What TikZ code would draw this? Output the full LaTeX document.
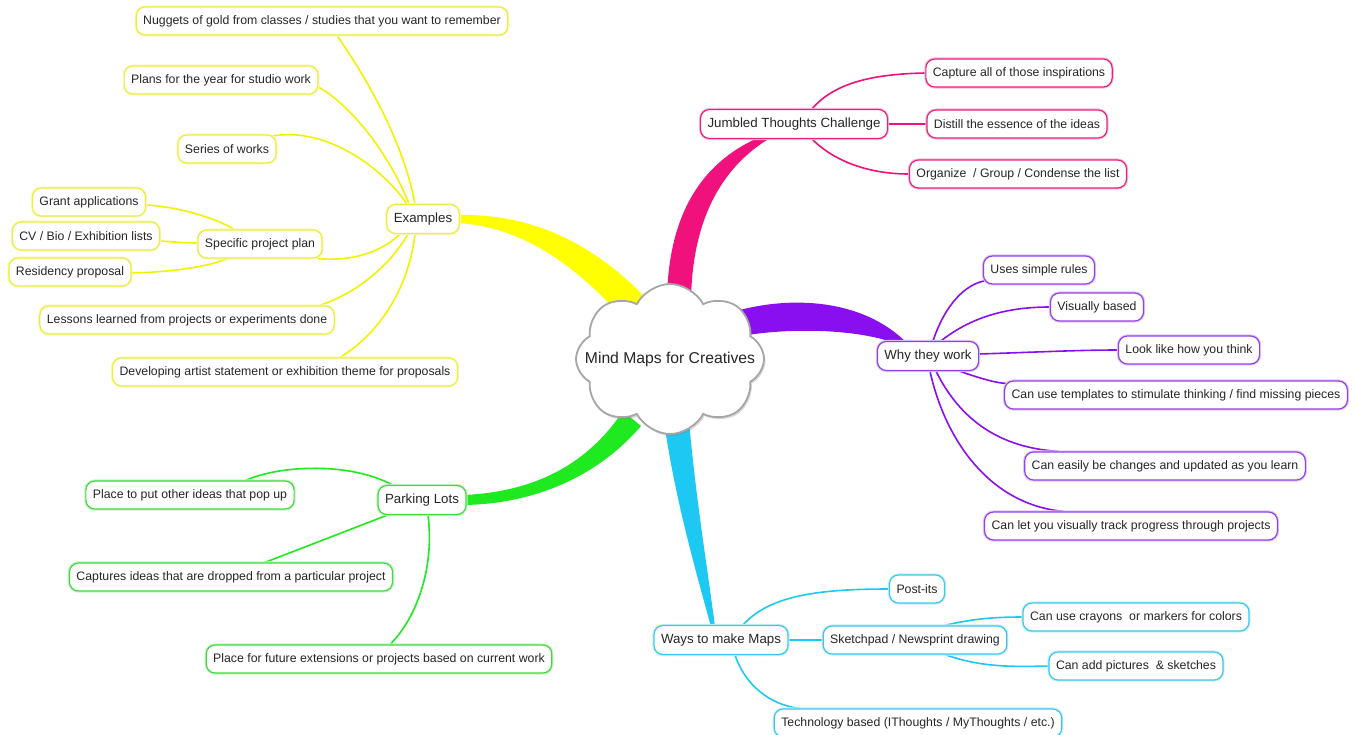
\documentclass[tikz,border=0pt]{standalone}
\usepackage{fontspec}
\setmainfont{Liberation Sans}
\usetikzlibrary{shapes.symbols,shadows,calc}
\definecolor{yel}{HTML}{FFFF00}
\definecolor{yell}{HTML}{F2F200}
\definecolor{yelb}{HTML}{ECEC3C}
\definecolor{pnk}{HTML}{F0117D}
\definecolor{pnkb}{HTML}{E8237F}
\definecolor{pur}{HTML}{8A0FF0}
\definecolor{purb}{HTML}{9440EB}
\definecolor{cyn}{HTML}{1DC8F2}
\definecolor{cynb}{HTML}{3CC8EE}
\definecolor{grn}{HTML}{1FEA1F}
\definecolor{grnb}{HTML}{3EDB3E}
\pgfdeclarelayer{bg}
\pgfsetlayers{bg,main}
\begin{document}
\begin{tikzpicture}[x=1pt,y=-1pt,
  leaf/.style={draw=#1, line width=1.2pt, fill=white, rounded corners=9pt,
    preaction={draw=#1!30, line width=3.2pt},
    minimum height=28pt, inner xsep=7pt, inner ysep=0pt,
    font=\fontsize{12.3}{14}\selectfont, text=black!85},
  branch/.style={leaf=#1, font=\fontsize{13.3}{15}\selectfont, minimum height=29pt, inner xsep=7pt},
  link/.style={draw=#1, line width=1.6pt},
  trunk/.style={fill=#1, draw=none}]
\useasboundingbox (0,0) rectangle (1357,734);

% centre
\node[cloud, cloud puffs=8, cloud puff arc=125, draw=gray!70, line width=1.8pt,
  fill=white, minimum width=188pt, minimum height=150pt, inner sep=0pt,
  drop shadow={shadow xshift=1.5pt, shadow yshift=-2pt, opacity=0.3}] (c) at (670,359) {};
\node[font=\fontsize{15.7}{18}\selectfont, text=black!85] (ctitle) at (c.center) {Mind Maps for Creatives};

% Examples
\node[branch=yelb] (ex) at (423,219) {Examples};
\node[leaf=yelb] (nug) at (322,21) {Nuggets of gold from classes / studies that you want to remember};
\node[leaf=yelb] (plans) at (221,80) {Plans for the year for studio work};
\node[leaf=yelb] (series) at (227,149) {Series of works};
\node[leaf=yelb] (spec) at (260,244) {Specific project plan};
\node[leaf=yelb] (grant) at (89,202) {Grant applications};
\node[leaf=yelb] (cv) at (86,236) {CV / Bio / Exhibition lists};
\node[leaf=yelb] (res) at (70,272) {Residency proposal};
\node[leaf=yelb] (less) at (187,320) {Lessons learned from projects or experiments done};
\node[leaf=yelb] (dev) at (285,372) {Developing artist statement or exhibition theme for proposals};

% Jumbled
\node[branch=pnkb] (jt) at (794,124) {Jumbled Thoughts Challenge};
\node[leaf=pnkb] (cap) at (1019,73) {Capture all of those inspirations};
\node[leaf=pnkb] (dis) at (1017,124) {Distill the essence of the ideas};
\node[leaf=pnkb] (org) at (1018,174) {Organize \ / Group / Condense the list};

% Why
\node[branch=purb] (why) at (928,356) {Why they work};
\node[leaf=purb] (uses) at (1039,270) {Uses simple rules};
\node[leaf=purb] (vis) at (1097,307) {Visually based};
\node[leaf=purb] (look) at (1189,350) {Look like how you think};
\node[leaf=purb] (tmpl) at (1176,395) {Can use templates to stimulate thinking / find missing pieces};
\node[leaf=purb] (easy) at (1165,466) {Can easily be changes and updated as you learn};
\node[leaf=purb] (track) at (1131,526) {Can let you visually track progress through projects};

% Ways
\node[branch=cynb] (ways) at (721,640) {Ways to make Maps};
\node[leaf=cynb] (post) at (917,589) {Post-its};
\node[leaf=cynb] (sketch) at (915,640) {Sketchpad / Newsprint drawing};
\node[leaf=cynb] (cray) at (1136,617) {Can use crayons \ or markers for colors};
\node[leaf=cynb] (pic) at (1136,666) {Can add pictures \ \& sketches};
\node[leaf=cynb] (tech) at (918,723) {Technology based (IThoughts / MyThoughts / etc.)};

% Parking
\node[branch=grnb] (park) at (422,500) {Parking Lots};
\node[leaf=grnb] (put) at (190,495) {Place to put other ideas that pop up};
\node[leaf=grnb] (capt) at (231,577) {Captures ideas that are dropped from a particular project};
\node[leaf=grnb] (fut) at (379,659) {Place for future extensions or projects based on current work};

\begin{pgfonlayer}{bg}
% trunks
\fill[trunk=yel] ($(ex.east)+(-3,-4)$) .. controls (545,213) and (608,255) .. ($(c)+(-13,-49)$)
  -- ($(c)+(-35,-27)$) .. controls (592,282) and (535,227) .. ($(ex.east)+(-3,4)$) -- cycle;
\fill[trunk=pnk] ($(c)+(-3,-58)$) .. controls (668,210) and (705,160) .. ($(jt.south)+(-32,-3)$)
  -- ($(jt.south)+(-24,-1)$) .. controls (720,168) and (692,222) .. ($(c)+(21,-58)$) -- cycle;
\fill[trunk=pur] ($(c)+(66,-48)$) .. controls (790,296) and (862,298) .. ($(why.north west)+(30,2)$)
  -- ($(why.north west)+(22,4)$) .. controls (868,331) and (800,326) .. ($(c)+(71,-23)$) -- cycle;
\fill[trunk=cyn] ($(c)+(-6,62)$) .. controls (675,500) and (697,575) .. ($(ways.north)+(-10,2)$)
  -- ($(ways.north)+(-6,2)$) .. controls (708,572) and (696,500) .. ($(c)+(19,62)$) -- cycle;
\fill[trunk=grn] ($(c)+(-47,52)$) .. controls (585,468) and (530,492) .. ($(park.east)+(-3,-5)$)
  -- ($(park.east)+(-3,5)$) .. controls (540,504) and (602,472) .. ($(c)+(-29,67)$) -- cycle;

% Examples links
\draw[link=yell] ($(nug.south)+(15,0)$) .. controls (375,90) and (405,150) .. ($(ex.north)+(-8,0)$);
\draw[link=yell] ($(plans.east)+(0,7)$) .. controls (355,108) and (392,160) .. ($(ex.north)+(-14,0)$);
\draw[link=yell] ($(series.north east)+(-6,2)$) .. controls (320,126) and (378,162) .. ($(ex.north)+(-16,0)$);
\draw[link=yell] ($(spec.south east)+(-5,0)$) .. controls (360,262) and (385,248) .. ($(ex.south west)+(14,0)$);
\draw[link=yell] ($(less.north east)+(-15,0)$) .. controls (360,292) and (392,262) .. ($(ex.south)+(-15,0)$);
\draw[link=yell] ($(dev.north)+(55,0)$) .. controls (385,330) and (410,280) .. ($(ex.south)+(-8,0)$);
\draw[link=yell] ($(grant.east)+(0,3)$) .. controls (180,207) and (215,218) .. ($(spec.north west)+(37,0)$);
\draw[link=yell] ($(cv.east)+(0,5)$) .. controls (175,242) and (185,243) .. ($(spec.west)+(0,-1)$);
\draw[link=yell] ($(res.east)+(0,1)$) .. controls (175,272) and (210,266) .. ($(spec.south west)+(30,0)$);

% Jumbled links
\draw[link=pnk] ($(jt.north)+(18,0)$) .. controls (835,82) and (875,74) .. (cap.west);
\draw[link=pnk] (jt.east) -- (dis.west);
\draw[link=pnk] ($(jt.south)+(18,0)$) .. controls (835,162) and (870,174) .. (org.west);

% Why links
\draw[link=pur] ($(why.north)+(5,0)$) .. controls (945,305) and (965,284) .. ($(uses.south west)+(3,-4)$);
\draw[link=pur] ($(why.north)+(13,0)$) .. controls (970,318) and (1005,307) .. (vis.west);
\draw[link=pur] ($(why.east)+(0,-2)$) .. controls (1040,352) and (1080,350) .. (look.west);
\draw[link=pur] ($(why.south east)+(-20,0)$) .. controls (985,380) and (1000,384) .. ($(tmpl.north west)+(6,3)$);
\draw[link=pur] ($(why.south)+(8,0)$) .. controls (960,420) and (1000,448) .. ($(easy.north west)+(35,0)$);
\draw[link=pur] ($(why.south)+(2,0)$) .. controls (945,440) and (990,505) .. ($(track.north west)+(80,0)$);

% Ways links
\draw[link=cyn] ($(ways.north)+(22,0)$) .. controls (770,595) and (820,589) .. (post.west);
\draw[link=cyn] (ways.east) -- (sketch.west);
\draw[link=cyn] ($(sketch.north)+(30,0)$) .. controls (975,618) and (1000,617) .. (cray.west);
\draw[link=cyn] ($(sketch.south)+(30,0)$) .. controls (980,667) and (1010,667) .. (pic.west);
\draw[link=cyn] ($(ways.south)+(14,0)$) .. controls (745,685) and (770,705) .. ($(tech.north west)+(26,0)$);

% Parking links
\draw[link=grn] ($(park.north west)+(15,0)$) .. controls (350,462) and (280,465) .. ($(put.north east)+(-49,0)$);
\draw[link=grn] ($(park.south west)+(10,0)$) -- ($(capt.north)+(34,0)$);
\draw[link=grn] ($(park.south)+(6,0)$) .. controls (435,570) and (415,620) .. ($(fut.north)+(11,0)$);
\end{pgfonlayer}
\end{tikzpicture}
\end{document}
